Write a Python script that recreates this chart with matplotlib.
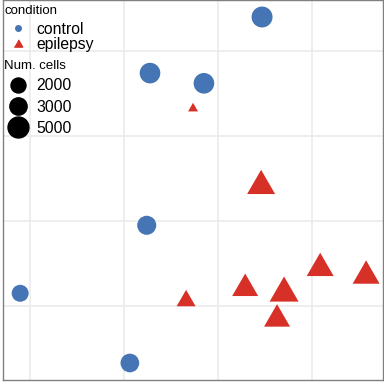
import numpy as np
import matplotlib
matplotlib.use("Agg")
import matplotlib.pyplot as plt
from matplotlib.lines import Line2D

plt.rcParams["font.family"] = ["Liberation Sans", "DejaVu Sans"]

# sample coordinates (projection), condition and number of cells
control_x = [2.47, 1.275, 1.85, 1.24, -0.11, 1.06]
control_y = [3.40, 2.74, 2.62, 0.95, 0.15, -0.67]
control_cells = [5000, 4800, 4800, 3900, 2850, 3700]

epilepsy_x = [1.734, 2.46, 3.09, 3.58, 2.29, 2.705, 2.63, 1.66]
epilepsy_y = [2.34, 1.46, 0.49, 0.40, 0.25, 0.20, -0.11, 0.094]
epilepsy_cells = [135, 4900, 4440, 4440, 4030, 5360, 4030, 1665]

size_breaks = [2000, 3000, 5000]

BLUE = "#4575B4"
RED = "#D73027"
# equilateral triangle, centred on its bounding box
TRI = [(-1, -0.866), (1, -0.866), (0, 0.866)]


def diam(cells):
    # marker diameter in points, linear in sqrt(cells)
    return 10.8 + 0.165 * (np.sqrt(np.asarray(cells, dtype=float)) - np.sqrt(2000))


fig = plt.figure(figsize=(3.84, 3.84), dpi=100)
ax = fig.add_axes([3 / 384, 4 / 384, 380 / 384, 380 / 384])

ax.scatter(control_x, control_y, s=diam(control_cells) ** 2, marker="o",
           color=BLUE, linewidths=0, zorder=3)
ax.scatter(epilepsy_x, epilepsy_y, s=(1.347 * diam(epilepsy_cells)) ** 2, marker=TRI,
           color=RED, linewidths=0, zorder=3)

ax.set_xlim(-0.293, 3.76)
ax.set_ylim(-0.87, 3.6)
ax.set_xticks([0, 1, 2, 3])
ax.set_yticks([0, 1, 2, 3])
ax.tick_params(length=0, labelbottom=False, labelleft=False)
ax.grid(True, color="#EBEBEB", linewidth=1.2, zorder=0)
ax.set_axisbelow(True)
for sp in ax.spines.values():
    sp.set_color("#808080")
    sp.set_linewidth(1.0)

cond_handles = [
    Line2D([], [], marker="o", color=BLUE, linestyle="", markersize=4),
    Line2D([], [], marker=TRI, color=RED, linestyle="", markersize=6),
]
leg1 = ax.legend(cond_handles, ["control", "epilepsy"], title="condition",
                 loc="upper left", bbox_to_anchor=(-0.005, 0.995), frameon=False,
                 fontsize=11.3, title_fontsize=9.5, alignment="left",
                 handlelength=1.7, handletextpad=0.35, labelspacing=0.0,
                 borderaxespad=0, borderpad=0.2)
leg1._legend_box.sep = 3.5  # gap between title and entries, in points
ax.add_artist(leg1)

size_handles = [Line2D([], [], marker="o", color="black", linestyle="",
                       markersize=d) for d in diam(size_breaks)]
leg2 = ax.legend(size_handles, [str(b) for b in size_breaks], title="Num. cells",
                 loc="upper left", bbox_to_anchor=(-0.005, 0.85), frameon=False,
                 fontsize=11.3, title_fontsize=9.5, alignment="left",
                 handlelength=1.7, handletextpad=0.35, labelspacing=0.4,
                 borderaxespad=0, borderpad=0.2)

fig.savefig("out.png", dpi=100)
